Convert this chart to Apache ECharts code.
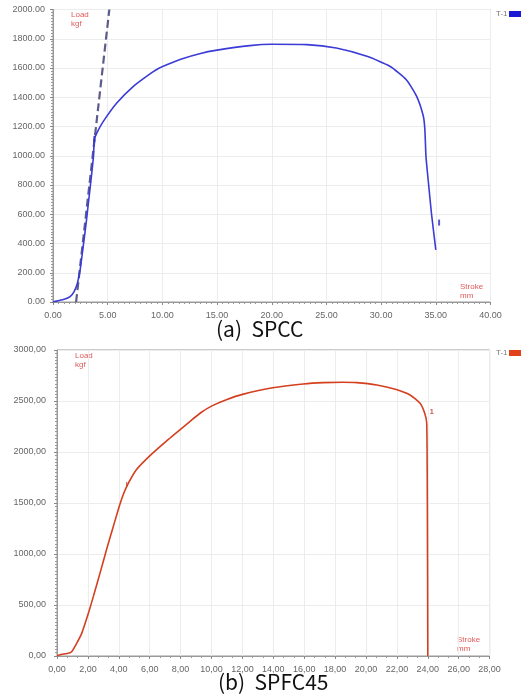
<!DOCTYPE html>
<html><head><meta charset="utf-8">
<script src="https://cdn.jsdelivr.net/npm/echarts@6/dist/echarts.min.js"></script>
<style>html,body{margin:0;padding:0;background:#fff}#c{width:521px;height:697px}</style>
</head><body><div id="c"></div>
<script>
// SPCC (top) curve
const spccX = [0, 0.5, 1.1, 1.56, 1.93, 2.23, 2.48, 2.72, 3.03, 3.27, 3.51, 3.7, 3.78, 4.0, 4.6, 5.83, 7.35, 8.87, 9.6, 10.4, 11.9, 13.4, 15, 18, 20, 23.2, 25.9, 28.7, 30.8, 32.3, 33.25, 33.86, 34.0, 34.1, 34.3, 34.6, 35.0];
const spccY = [2, 9, 20, 36, 71, 128, 219, 356, 539, 699, 858, 995, 1110, 1155, 1235, 1361, 1475, 1560, 1595, 1622, 1665, 1698, 1722, 1753, 1762, 1760, 1737, 1680, 1612, 1520, 1406, 1270, 1178, 995, 836, 607, 356];
// elastic offset (dashed) line
const dashX = [2.11, 5.15];
const dashY = [0, 2000];
// small marks on SPCC
const spccMarkX = [3.78, 35.3];
const spccMarkY = [1115, 543];
// SPFC45 (bottom) curve
const spfcX = [0, 0.41, 0.73, 0.95, 1.27, 1.6, 2.03, 2.35, 2.78, 3.2, 3.64, 4.12, 4.51, 5.16, 6.02, 7.1, 8.61, 9.3, 10, 11, 12, 13.96, 15.94, 17.24, 18.5, 19.4, 20.7, 21.9, 22.85, 23.5, 23.8, 23.93, 23.97, 24.0];
const spfcY = [3, 20, 26, 42, 124, 222, 418, 582, 810, 1039, 1268, 1510, 1660, 1830, 1965, 2110, 2300, 2385, 2450, 2515, 2565, 2630, 2667, 2680, 2684, 2680, 2657, 2615, 2559, 2477, 2379, 2281, 1500, 0];
// marker labels on SPFC45
const spfcMarkX = [4.5, 24.25];
const spfcMarkY = [1680, 2390];
const spfcMarkText = ['I', '1'];
// axis ranges / ticks
const topX = {min: 0, max: 40, interval: 5};
const topY = {min: 0, max: 2000, interval: 200};
const botX = {min: 0, max: 28, interval: 2};
const botY = {min: 0, max: 3000, interval: 500};

const zip = (a, b) => a.map((v, i) => [v, b[i]]);
const FONT = 'Liberation Sans';
const lblColor = '#666';
function axisCommon(dot) {
  return {
    axisLine: {show: true, lineStyle: {color: '#999', width: 1}},
    axisTick: {show: true, length: 3, lineStyle: {color: '#888'}},
    minorTick: {show: true, splitNumber: dot, length: 2, lineStyle: {color: '#999'}},
    splitLine: {show: true, lineStyle: {color: '#ececec', width: 1}},
    axisLabel: {color: lblColor, fontSize: 9, fontFamily: FONT}
  };
}
function fmtDot(v){ return v.toFixed(2); }
function fmtComma(v){ return v.toFixed(2).replace('.', ','); }

const chart = echarts.init(document.getElementById('c'), null, {renderer: 'canvas'});
const option = {
  backgroundColor: '#fff',
  animation: false,
  grid: [
    {left: 53, right: 30.5, top: 9.5, bottom: 395, show: true, borderColor: '#999', borderWidth: 1},
    {left: 57, right: 31.4, top: 350, bottom: 41, show: true, borderColor: '#999', borderWidth: 1}
  ],
  xAxis: [
    Object.assign(axisCommon(10), {type: 'value', gridIndex: 0, min: topX.min, max: topX.max, interval: topX.interval,
      axisLabel: {color: lblColor, fontSize: 9, fontFamily: FONT, margin: 9, formatter: fmtDot}}),
    Object.assign(axisCommon(3), {type: 'value', gridIndex: 1, min: botX.min, max: botX.max, interval: botX.interval,
      axisLabel: {color: lblColor, fontSize: 9, fontFamily: FONT, margin: 9, formatter: fmtComma}})
  ],
  yAxis: [
    Object.assign(axisCommon(10), {type: 'value', gridIndex: 0, min: topY.min, max: topY.max, interval: topY.interval,
      axisLabel: {color: lblColor, fontSize: 9, fontFamily: FONT, margin: 8, formatter: fmtDot}}),
    Object.assign(axisCommon(15), {type: 'value', gridIndex: 1, min: botY.min, max: botY.max, interval: botY.interval,
      axisLabel: {color: lblColor, fontSize: 9, fontFamily: FONT, margin: 11, formatter: fmtComma}})
  ],
  series: [
    {type: 'line', xAxisIndex: 0, yAxisIndex: 0, data: zip(dashX, dashY), symbol: 'none',
      lineStyle: {color: '#5c5c8c', width: 2.2, type: [8, 4]}, z: 3},
    {type: 'line', xAxisIndex: 0, yAxisIndex: 0, data: zip(spccX, spccY), symbol: 'none', smooth: 0.2,
      lineStyle: {color: '#3b3bd6', width: 1.6}, z: 4},
    {type: 'scatter', xAxisIndex: 0, yAxisIndex: 0, data: zip(spccMarkX, spccMarkY), symbol: 'rect', symbolSize: [2, 6],
      itemStyle: {color: '#3030c0'}, z: 5},
    {type: 'line', xAxisIndex: 1, yAxisIndex: 1, data: zip(spfcX, spfcY), symbol: 'none', smooth: 0.2,
      lineStyle: {color: '#d4401f', width: 1.6}, z: 4},
    {type: 'scatter', xAxisIndex: 1, yAxisIndex: 1, data: spfcMarkX.map((x, i) => ({value: [x, spfcMarkY[i]], label: {formatter: spfcMarkText[i]}})),
      symbolSize: 0, label: {show: true, position: 'inside', color: '#c0402a', fontSize: 8, fontFamily: FONT, fontWeight: 'bold'}, z: 5}
  ],
  graphic: [
    {type: 'text', left: 71, top: 10, style: {text: 'Load\nkgf', fill: '#e05a5a', font: '8px Liberation Sans', align: 'center', lineHeight: 9}},
    {type: 'text', left: 460, top: 282, style: {text: 'Stroke\nmm', fill: '#e05a5a', font: '8px Liberation Sans', align: 'center', lineHeight: 9}},
    {type: 'text', left: 75, top: 351, style: {text: 'Load\nkgf', fill: '#e05a5a', font: '8px Liberation Sans', align: 'center', lineHeight: 9}},
    {type: 'text', left: 457, top: 635, style: {text: 'Stroke\nmm', fill: '#e05a5a', font: '8px Liberation Sans', align: 'center', lineHeight: 9}},
    {type: 'text', left: 496, top: 10, style: {text: 'T-1', fill: '#777', font: '8px Liberation Sans'}},
    {type: 'rect', left: 509, top: 11, shape: {width: 12, height: 6}, style: {fill: '#1a1ad4'}},
    {type: 'text', left: 496, top: 349, style: {text: 'T-1', fill: '#777', font: '8px Liberation Sans'}},
    {type: 'rect', left: 509, top: 350, shape: {width: 12, height: 6}, style: {fill: '#e0401a'}},
    {type: 'text', left: 216, top: 319, style: {text: '(a)  SPCC', fill: '#111', font: '21px "Noto Sans CJK KR"'}},
    {type: 'text', left: 218, top: 672, style: {text: '(b)  SPFC45', fill: '#111', font: '21px "Noto Sans CJK KR"'}}
  ]
};
chart.setOption(option);
</script></body></html>
